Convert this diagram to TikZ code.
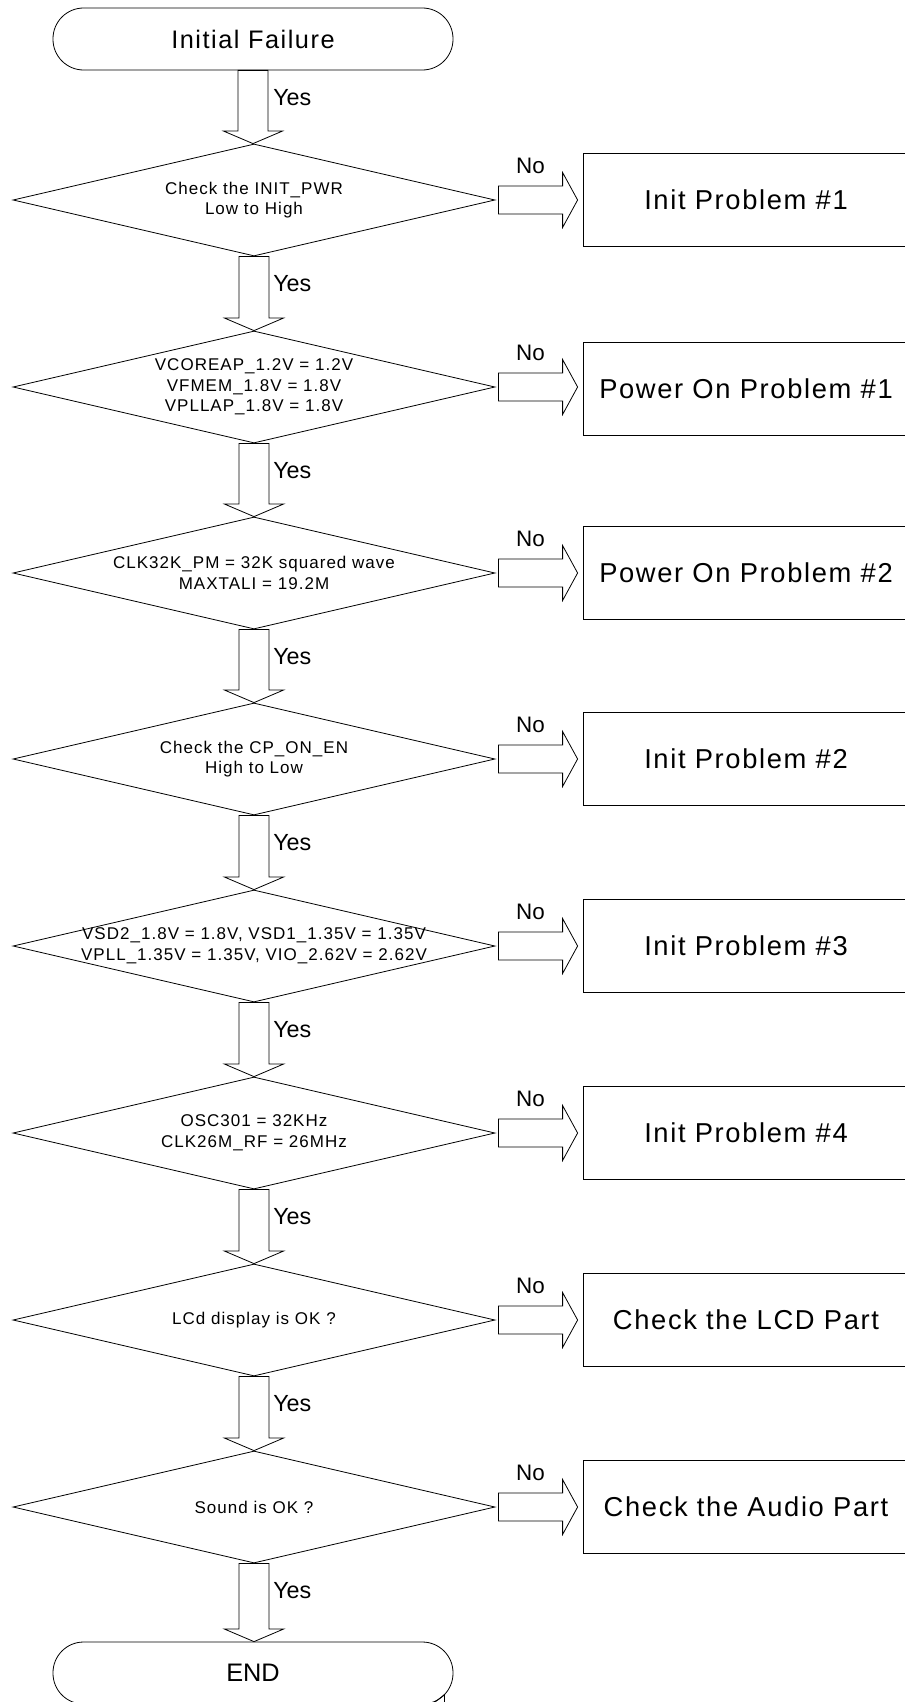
\documentclass[tikz,border=0pt]{standalone}
\usepackage{fontspec}
\setmainfont{Liberation Sans}
\newfontfamily\spacedfont[LetterSpace=6]{Liberation Sans}
\usetikzlibrary{shapes.geometric,calc}
\tikzset{
  ln/.style={line width=0.6pt},
  term/.style={draw, ln, rounded corners=23pt, minimum width=300pt, minimum height=46.5pt, inner sep=0pt},
  dec/.style={draw, ln, diamond, minimum width=361.5pt, minimum height=84pt, inner sep=0pt},
  dtext/.style={align=center, inner sep=0pt, font=\spacedfont\fontsize{12.75}{15.4}\selectfont},
  box/.style={draw, ln, minimum width=244.5pt, minimum height=69.75pt, inner sep=0pt, font=\spacedfont\fontsize{20.5}{24}\selectfont},
  yeslab/.style={anchor=west, inner sep=0pt, font=\fontsize{17.5}{20}\selectfont},
  nolab/.style={inner sep=0pt, font=\fontsize{16.8}{20}\selectfont},
  blk/.style={draw, ln, line join=miter}
}
\newcommand\vblockarrow[2]{\draw[blk] let \p1=(#1), \p2=(#2) in
  (\x1-11.25pt,\y1) -- (\x1-11.25pt,\y2+9.4pt) -- (\x1-22.1pt,\y2+9.4pt) -- (\x1,\y2)
  -- (\x1+22.1pt,\y2+9.4pt) -- (\x1+11.25pt,\y2+9.4pt) -- (\x1+11.25pt,\y1) -- cycle;}
\newcommand\hblockarrow[2]{\draw[blk] let \p1=(#1), \p2=(#2) in
  (\x1+2.25pt,\y1+10.5pt) -- (\x2-15pt,\y1+10.5pt) -- (\x2-15pt,\y1+20.6pt) -- (\x2-3.75pt,\y1)
  -- (\x2-15pt,\y1-20.6pt) -- (\x2-15pt,\y1-10.5pt) -- (\x1+2.25pt,\y1-10.5pt) -- cycle;}
\begin{document}
\begin{tikzpicture}[x=0.75pt, y=-0.75pt]
\useasboundingbox (0,0) rectangle (905,1702);
\clip (0,0) rectangle (905,1702);

% terminals
\node[term, font=\spacedfont\fontsize{19}{22}\selectfont] (start) at (253,39) {Initial Failure};
\node[term, font=\fontsize{19}{22}\selectfont] (end) at (253,1673) {END};

% decisions
\node[dec] (d1) at (254,200) {};
\node[dtext] (t1) at (d1.center) {Check the INIT\_PWR\\Low to High};
\node[dec] (d2) at (254,387) {};
\node[dtext] (t2) at (d2.center) {VCOREAP\_1.2V = 1.2V\\VFMEM\_1.8V = 1.8V\\VPLLAP\_1.8V = 1.8V};
\node[dec] (d3) at (254,573) {};
\node[dtext] (t3) at (d3.center) {CLK32K\_PM = 32K squared wave\\MAXTALI = 19.2M};
\node[dec] (d4) at (254,759) {};
\node[dtext] (t4) at (d4.center) {Check the CP\_ON\_EN\\High to Low};
\node[dec] (d5) at (254,946) {};
\node[dtext] (t5) at (d5.center) {VSD2\_1.8V = 1.8V, VSD1\_1.35V = 1.35V\\VPLL\_1.35V = 1.35V, VIO\_2.62V = 2.62V};
\node[dec] (d6) at (254,1133) {};
\node[dtext] (t6) at (d6.center) {OSC301 = 32KHz\\CLK26M\_RF = 26MHz};
\node[dec] (d7) at (254,1320) {};
\node[dtext] (t7) at (d7.center) {LCd display is OK ?};
\node[dec] (d8) at (254,1507) {};
\node[dtext] (t8) at (d8.center) {Sound is OK ?};

% result boxes
\node[box] (b1) at (746,200) {Init Problem \#1};
\node[box] (b2) at (746,389) {Power On Problem \#1};
\node[box] (b3) at (746,573) {Power On Problem \#2};
\node[box] (b4) at (746,759) {Init Problem \#2};
\node[box] (b5) at (746,946) {Init Problem \#3};
\node[box] (b6) at (746,1133) {Init Problem \#4};
\node[box] (b7) at (746,1320) {Check the LCD Part};
\node[box] (b8) at (746,1507) {Check the Audio Part};

% yes arrows
\vblockarrow{start.south}{d1.north}
\vblockarrow{d1.south}{d2.north}
\vblockarrow{d2.south}{d3.north}
\vblockarrow{d3.south}{d4.north}
\vblockarrow{d4.south}{d5.north}
\vblockarrow{d5.south}{d6.north}
\vblockarrow{d6.south}{d7.north}
\vblockarrow{d7.south}{d8.north}
\vblockarrow{d8.south}{end.north}

\node[yeslab] (y0) at ($(start.south)+(20,27)$) {Yes};
\node[yeslab] (y1) at ($(d1.south)+(19,27)$) {Yes};
\node[yeslab] (y2) at ($(d2.south)+(19,27)$) {Yes};
\node[yeslab] (y3) at ($(d3.south)+(19,27)$) {Yes};
\node[yeslab] (y4) at ($(d4.south)+(19,27)$) {Yes};
\node[yeslab] (y5) at ($(d5.south)+(19,27)$) {Yes};
\node[yeslab] (y6) at ($(d6.south)+(19,27)$) {Yes};
\node[yeslab] (y7) at ($(d7.south)+(19,27)$) {Yes};
\node[yeslab] (y8) at ($(d8.south)+(19,27)$) {Yes};

% no arrows
\hblockarrow{d1.east}{b1.west}
\hblockarrow{d2.east}{b2.west}
\hblockarrow{d3.east}{b3.west}
\hblockarrow{d4.east}{b4.west}
\hblockarrow{d5.east}{b5.west}
\hblockarrow{d6.east}{b6.west}
\hblockarrow{d7.east}{b7.west}
\hblockarrow{d8.east}{b8.west}

\node[nolab] (n1) at ($(d1.east)+(35,-34)$) {No};
\node[nolab] (n2) at ($(d2.east)+(35,-34)$) {No};
\node[nolab] (n3) at ($(d3.east)+(35,-34)$) {No};
\node[nolab] (n4) at ($(d4.east)+(35,-34)$) {No};
\node[nolab] (n5) at ($(d5.east)+(35,-34)$) {No};
\node[nolab] (n6) at ($(d6.east)+(35,-34)$) {No};
\node[nolab] (n7) at ($(d7.east)+(35,-34)$) {No};
\node[nolab] (n8) at ($(d8.east)+(35,-34)$) {No};

% small stray mark at the bottom
\draw[ln] (444,1694) -- (444,1702);
\draw[ln] (435,1702) -- (444,1695);
\end{tikzpicture}
\end{document}
